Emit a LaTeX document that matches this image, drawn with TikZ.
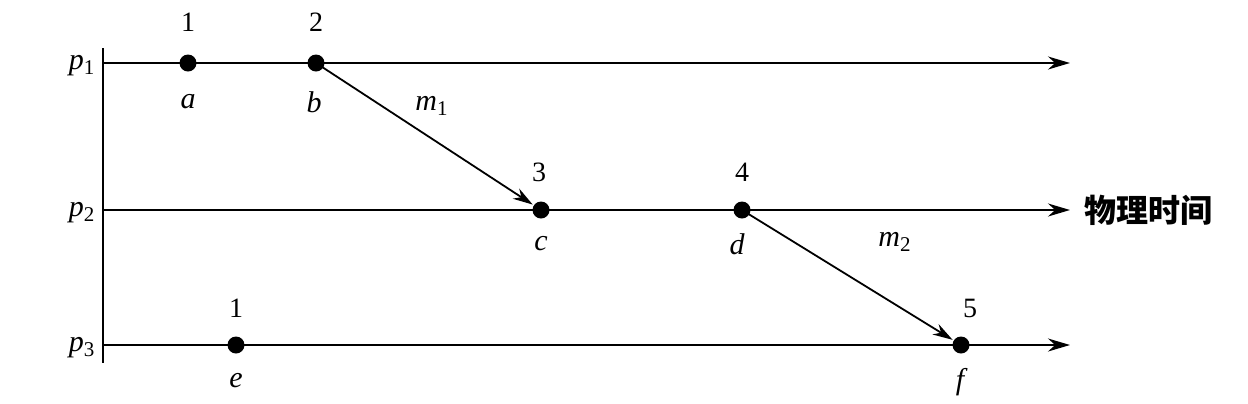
\documentclass[tikz,border=0pt]{standalone}
\usepackage{fontspec}
\setmainfont{Liberation Serif}
\newfontfamily\cjk{Noto Sans CJK SC}
\usetikzlibrary{arrows.meta}
\begin{document}
\begin{tikzpicture}[x=0.5pt,y=-0.5pt,
  dot/.style={circle,fill=black,inner sep=0pt,minimum size=8.5pt},
  num/.style={inner sep=0pt,font=\fontsize{14}{16}\selectfont},
  lett/.style={inner sep=0pt,font=\fontsize{15}{17}\selectfont\itshape},
  axisline/.style={line width=0.9pt,-{Stealth[length=11pt,width=6.5pt]}},
  msg/.style={line width=0.9pt,-{Stealth[length=10pt,width=6pt]},shorten >=0.5pt}]
\useasboundingbox (0,0) rectangle (1248,403);
% process axes
\coordinate (top) at (103,48);
\coordinate (bot) at (103,363);
\draw[line width=0.9pt] (top) -- (bot);
\coordinate (p1s) at (103,63);  \coordinate (p1e) at (1070,63);
\coordinate (p2s) at (103,210); \coordinate (p2e) at (1070,210);
\coordinate (p3s) at (103,345); \coordinate (p3e) at (1070,345);
\draw[axisline] (p1s) -- (p1e);
\draw[axisline] (p2s) -- (p2e);
\draw[axisline] (p3s) -- (p3e);
\node[lett] (lp1) at (82,66) {p\textsubscript{\upshape 1}};
\node[lett] (lp2) at (82,213) {p\textsubscript{\upshape 2}};
\node[lett] (lp3) at (82,348) {p\textsubscript{\upshape 3}};
\node[anchor=west,inner sep=0pt,font=\cjk\bfseries\fontsize{16}{18}\selectfont] (time) at (1084,210) {物理时间};
% events
\node[dot] (a) at (188,63) {};
\node[dot] (b) at (316,63) {};
\node[dot] (c) at (541,210) {};
\node[dot] (d) at (742,210) {};
\node[dot] (e) at (236,345) {};
\node[dot] (f) at (961,345) {};
% numbers
\node[num] (n1) at (188,22) {1};
\node[num] (n2) at (316,22) {2};
\node[num] (n3) at (539,172) {3};
\node[num] (n4) at (742,172) {4};
\node[num] (n5) at (236,308) {1};
\node[num] (n6) at (970,308) {5};
% letters
\node[lett] (la) at (188,102) {a};
\node[lett] (lb) at (314,102) {b};
\node[lett] (lc) at (541,244) {c};
\node[lett] (ld) at (737,244) {d};
\node[lett] (le) at (236,381) {e};
\node[lett] (lf) at (960,382) {f};
% messages
\draw[msg] (b.center) -- (c);
\draw[msg] (d.center) -- (f);
\node[lett] (m1) at (432,106) {m\textsubscript{\upshape 1}};
\node[lett] (m2) at (895,242) {m\textsubscript{\upshape 2}};
\end{tikzpicture}
\end{document}
